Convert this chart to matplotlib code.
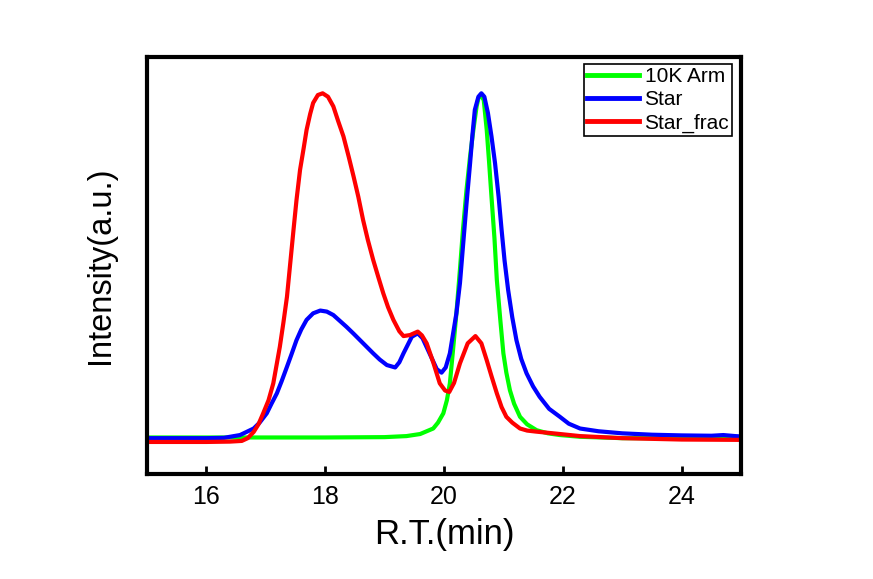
import numpy as np
import matplotlib.pyplot as plt

plt.rcParams['font.family'] = ['Liberation Sans', 'DejaVu Sans']

# GPC traces, intensity normalised to the highest peak
arm_x = [15.0, 16.0, 17.0, 18.0, 19.0, 19.37, 19.6, 19.82, 19.9, 19.99, 20.05, 20.10, 20.15,
         20.21, 20.27, 20.32, 20.38, 20.44, 20.5, 20.55, 20.58, 20.62, 20.67, 20.72, 20.76,
         20.80, 20.85, 20.89, 20.95, 21.0, 21.05, 21.11, 21.18, 21.28, 21.4, 21.56, 21.75,
         21.95, 22.29, 23.0, 24.0, 25.0]
arm_y = [0.002, 0.002, 0.002, 0.002, 0.003, 0.006, 0.012, 0.028, 0.045, 0.072, 0.11, 0.159, 0.25,
         0.362, 0.49, 0.604, 0.72, 0.817, 0.90, 0.962, 0.985, 0.996, 0.98, 0.894, 0.80,
         0.70, 0.58, 0.459, 0.34, 0.246, 0.19, 0.139, 0.10, 0.062, 0.04, 0.023, 0.014,
         0.009, 0.004, 0.0, 0.0, 0.0]

star_x = [15.0, 15.5, 16.0, 16.3, 16.57, 16.8, 16.9, 17.02, 17.1, 17.19, 17.27, 17.36, 17.44,
          17.52, 17.6, 17.69, 17.80, 17.92, 18.03, 18.14, 18.25, 18.36, 18.48, 18.59, 18.7,
          18.81, 18.92, 19.04, 19.18, 19.25, 19.32, 19.46, 19.56, 19.64, 19.72, 19.80,
          19.88, 19.96, 20.03, 20.10, 20.21, 20.27, 20.32, 20.38, 20.44, 20.48, 20.52,
          20.58, 20.63, 20.68, 20.74, 20.80, 20.86, 20.92, 20.97, 21.02, 21.08, 21.15,
          21.22, 21.3, 21.39, 21.5, 21.61, 21.77, 21.95, 22.1, 22.29, 22.6, 23.0, 23.5,
          24.0, 24.5, 24.7, 24.9, 25.0]
star_y = [0.0, 0.0, 0.0, 0.001, 0.009, 0.028, 0.045, 0.072, 0.1, 0.13, 0.165, 0.207, 0.245,
          0.284, 0.315, 0.343, 0.362, 0.37, 0.367, 0.357, 0.34, 0.323, 0.303, 0.284, 0.265,
          0.246, 0.228, 0.212, 0.205, 0.22, 0.246, 0.294, 0.304, 0.29, 0.26, 0.23,
          0.20, 0.19, 0.205, 0.246, 0.362, 0.45, 0.555, 0.68, 0.797, 0.88, 0.952,
          0.99, 1.0, 0.99, 0.943, 0.875, 0.797, 0.70, 0.604, 0.515, 0.43, 0.35,
          0.284, 0.23, 0.188, 0.15, 0.12, 0.085, 0.062, 0.042, 0.028, 0.02, 0.014, 0.010,
          0.008, 0.007, 0.009, 0.006, 0.005]

frac_x = [15.0, 15.5, 16.0, 16.4, 16.6, 16.7, 16.8, 16.88, 16.96, 17.05, 17.13, 17.24, 17.3,
          17.36, 17.47, 17.52, 17.58, 17.64, 17.69, 17.75, 17.80, 17.88, 17.96, 18.05, 18.14,
          18.22, 18.31, 18.40, 18.48, 18.56, 18.64, 18.72, 18.81, 18.9, 18.98, 19.06, 19.15,
          19.25, 19.32, 19.43, 19.56, 19.63, 19.71, 19.82, 19.93, 20.02, 20.09, 20.17,
          20.27, 20.40, 20.53, 20.63, 20.72, 20.8, 20.89, 20.97, 21.05, 21.15, 21.28, 21.4,
          21.55, 21.84, 22.29, 23.0, 24.0, 25.0]
frac_y = [-0.011, -0.011, -0.011, -0.010, -0.008, 0.0, 0.018, 0.04, 0.072, 0.11, 0.159, 0.265, 0.335,
          0.41, 0.604, 0.69, 0.778, 0.84, 0.894, 0.94, 0.972, 0.995, 1.0, 0.99, 0.962,
          0.92, 0.875, 0.815, 0.759, 0.70, 0.633, 0.575, 0.517, 0.465, 0.42, 0.38, 0.343,
          0.31, 0.296, 0.299, 0.309, 0.298, 0.275, 0.22, 0.159, 0.138, 0.134, 0.16,
          0.217, 0.275, 0.296, 0.275, 0.226, 0.18, 0.13, 0.09, 0.062, 0.045, 0.028, 0.022,
          0.019, 0.014, 0.006, 0.0, -0.004, -0.005]

fig = plt.figure(figsize=(8.73, 5.79), dpi=100)
ax = fig.add_axes([0.168, 0.181, 0.681, 0.721])

ax.plot(arm_x, arm_y, color='#00ff00', lw=3, label='10K Arm', solid_joinstyle='round')
ax.plot(star_x, star_y, color='#0000ff', lw=3, label='Star', solid_joinstyle='round')
ax.plot(frac_x, frac_y, color='#ff0000', lw=3, label='Star_frac', solid_joinstyle='round')

ax.set_xlim(15, 25)
ax.set_ylim(-0.1045, 1.106)
ax.set_xticks([16, 18, 20, 22, 24])
ax.set_yticks([])
ax.tick_params(axis='x', direction='in', length=6, width=2, labelsize=18, pad=8)
for s in ax.spines.values():
    s.set_linewidth(3)

ax.set_xlabel('R.T.(min)', fontsize=25, labelpad=6)
ax.set_ylabel('Intensity(a.u.)', fontsize=23.5, labelpad=22)

leg = ax.legend(loc='upper right', bbox_to_anchor=(0.985, 0.983), borderaxespad=0,
                fontsize=15, handlelength=2.5, handletextpad=0.25, labelspacing=0.2,
                borderpad=0.15, fancybox=False, framealpha=1)
leg.get_frame().set_edgecolor('black')
leg.get_frame().set_linewidth(1.2)
for line in leg.get_lines():
    line.set_linewidth(3.5)

fig.savefig('out.png', dpi=100)
